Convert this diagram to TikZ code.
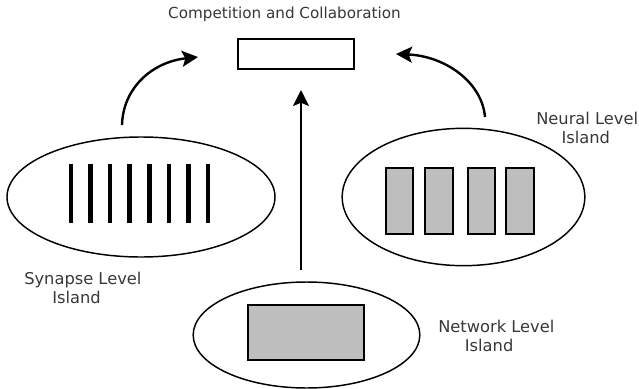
\documentclass[tikz,border=0pt]{standalone}
\usepackage{fontspec}
\setmainfont{DejaVu Sans}
\usetikzlibrary{shapes.geometric,arrows.meta}
\definecolor{boxgray}{RGB}{190,190,190}
\definecolor{txt}{RGB}{55,55,55}
\tikzset{
  island/.style={draw=black, line width=1.1pt, ellipse, inner sep=0pt},
  unitbox/.style={draw=black, line width=1.3pt, fill=boxgray, inner sep=0pt, minimum width=#1},
  bar/.style={line width=3.5pt},
  flow/.style={line width=1.8pt, -{Stealth[length=12pt,width=12pt,inset=2.5pt]}},
  lbl/.style={text=txt, font=\fontsize{12.2}{14.3}\selectfont, align=left, inner sep=0pt, anchor=west},
}
\begin{document}
\begin{tikzpicture}[x=0.75pt,y=-0.75pt]
\useasboundingbox (0,0) rectangle (639,389);
% title and top box
\node[text=txt, font=\fontsize{11.4}{13}\selectfont, inner sep=0pt] (title) at (284.5,14) {Competition and Collaboration};
\node[draw=black, line width=1.5pt, minimum width=87pt, minimum height=22.5pt, inner sep=0pt] (cc) at (296,54) {};
% synapse island
\node[island, minimum width=201pt, minimum height=90pt] (syn) at (141,197) {};
\foreach \i in {0,...,7}{
  \draw[bar] ({71+\i*19.57},164) -- ({71+\i*19.57},223);
}
\node[lbl] (synl) at (24,287.5) {Synapse Level\\\hspace*{21pt}Island};
% neural island
\node[island, minimum width=182pt, minimum height=103pt] (neu) at (463.5,197) {};
\foreach \xx [count=\k] in {399.5,439,481.5,520}{
  \node[unitbox=20.5pt, minimum height=49.5pt] (n\k) at (\xx,201) {};
}
\node[lbl] (neul) at (536,127.5) {Neural Level\\\hspace*{19pt}Island};
% network island
\node[island, minimum width=170pt, minimum height=79.5pt] (net) at (306.5,335) {};
\node[unitbox=87pt, minimum height=41.25pt] (netbox) at (306,332.5) {};
\node[lbl] (netl) at (438,336) {Network Level\\\hspace*{20pt}Island};
% connectors
\coordinate (synTop) at (122,125);
\coordinate (synTip) at (198,57);
\coordinate (neuTop) at (485,117);
\coordinate (neuTip) at (396,54);
\coordinate (netTop) at (301,270);
\coordinate (netTip) at (301,90);
\draw[flow] (synTop) .. controls (123,88) and (152,62) .. (synTip);
\draw[flow] (neuTop) .. controls (482,82) and (445,56) .. (neuTip);
\draw[flow] (netTop) -- (netTip);
\end{tikzpicture}
\end{document}
